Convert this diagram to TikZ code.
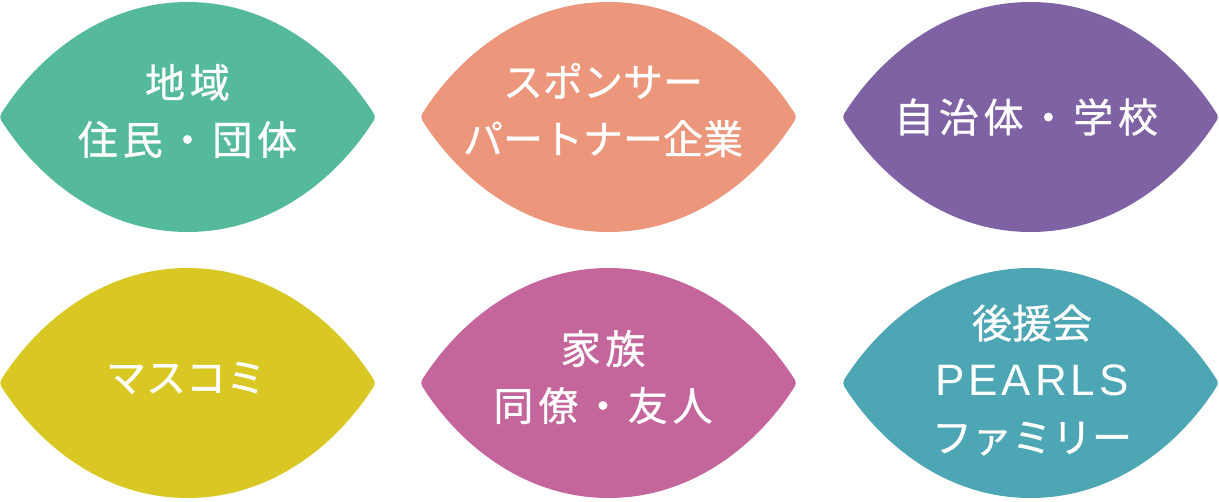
\documentclass[tikz,border=0pt]{standalone}
\usepackage{fontspec}
\newfontfamily\jpfont[FakeBold=0.8]{Noto Sans CJK JP}
\newfontfamily\jpwide[LetterSpace=12,FakeBold=0.8]{Noto Sans CJK JP}
\newfontfamily\latinwide[LetterSpace=9]{Liberation Sans}
\definecolor{cgreen}{HTML}{55BA9C}
\definecolor{csalmon}{HTML}{EC967B}
\definecolor{cpurple}{HTML}{7F62A3}
\definecolor{cyellow}{HTML}{D9C823}
\definecolor{cpink}{HTML}{C4659C}
\definecolor{cteal}{HTML}{4CA6B3}
\newcommand\leafshape[3]{%
  \fill[#3, shift={(#1,#2)}]
    (-186.5,-3) .. controls (-152,-58) and (-87,-115) .. (0,-115)
    .. controls (87,-115) and (152,-58) .. (186.5,-3)
    .. controls (187.5,-1) and (187.5,1) .. (186.5,3)
    .. controls (152,58) and (87,115) .. (0,115)
    .. controls (-87,115) and (-152,58) .. (-186.5,3)
    .. controls (-187.5,1) and (-187.5,-1) .. cycle;}
\begin{document}
\begin{tikzpicture}[x=1pt,y=-1pt,
  leaflabel/.style={text=white, align=center, inner sep=0pt,
    font=\jpfont\fontsize{40pt}{57pt}\selectfont},
  widelabel/.style={leaflabel, font=\jpwide\fontsize{40pt}{57pt}\selectfont}]
\useasboundingbox (0,0) rectangle (1219,501);
\leafshape{187.5}{117}{cgreen}
\leafshape{608.5}{117}{csalmon}
\leafshape{1030.5}{117}{cpurple}
\leafshape{187.5}{383}{cyellow}
\leafshape{608.5}{383}{cpink}
\leafshape{1030.5}{383}{cteal}
\node[widelabel] (t1) at (187.5,111) {地域\\住民・団体};
\node[leaflabel] (t2) at (603,110) {スポンサー\\パートナー企業};
\node[widelabel] (t3) at (1026,117) {自治体・学校};
\node[leaflabel] (t4) at (186,378) {マスコミ};
\node[widelabel] (t5) at (603,377) {家族\\同僚・友人};
\node[leaflabel] (t6) at (1032,380) {後援会\\{\latinwide\fontsize{44pt}{57pt}\selectfont PEARLS}\\ファミリー};
\end{tikzpicture}
\end{document}
